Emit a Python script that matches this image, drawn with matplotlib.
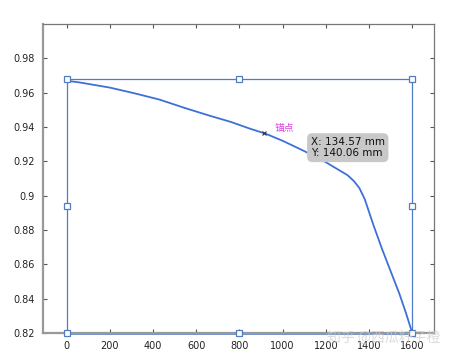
import matplotlib.pyplot as plt

plt.rcParams['font.family'] = ['DejaVu Sans', 'Noto Sans CJK SC']

# curve
curve_x = [0, 60, 200, 320, 430, 550, 660, 760, 850, 920, 1000, 1100, 1200, 1260,
           1300, 1330, 1355, 1380, 1420, 1460, 1500, 1540, 1570, 1600]
curve_y = [0.967, 0.966, 0.963, 0.9595, 0.956, 0.951, 0.9467, 0.943, 0.939, 0.9362,
           0.932, 0.926, 0.9195, 0.915, 0.912, 0.9085, 0.9045, 0.898, 0.883, 0.869,
           0.856, 0.843, 0.832, 0.82]

# selection box round the curve
box_x = [0, 1600, 1600, 0, 0]
box_y = [0.968, 0.968, 0.82, 0.82, 0.968]
handle_x = [0, 800, 1600, 0, 1600, 0, 800, 1600]
handle_y = [0.968, 0.968, 0.968, 0.894, 0.894, 0.82, 0.82, 0.82]

anchor = (915, 0.9365)
tip_text = "X: 134.57 mm\nY: 140.06 mm"

xticks = [0, 200, 400, 600, 800, 1000, 1200, 1400, 1600]
yticks = [0.82, 0.84, 0.86, 0.88, 0.9, 0.92, 0.94, 0.96, 0.98]

fig = plt.figure(figsize=(4.55, 3.6), dpi=100)
ax = fig.add_axes([0.0945, 0.075, 0.859, 0.858])

ax.plot(box_x, box_y, color='#4f7cc4', lw=0.9, clip_on=False, zorder=2)
ax.plot([0, 1600], [0.82, 0.82], color='#4f7cc4', lw=1.8, clip_on=False, zorder=2)
ax.plot(curve_x, curve_y, color='#3d70d8', lw=1.3, clip_on=False, zorder=3)
ax.plot(handle_x, handle_y, ls='none', marker='s', ms=4.5, mfc='white',
        mec='#4f7cc4', mew=0.9, clip_on=False, zorder=4)

ax.plot(*anchor, marker='x', ms=3.5, color='#333333', mew=0.8, zorder=5)
ax.text(962, 0.9395, '锚点', color='#e040e0', fontsize=7,
        family=['Noto Sans CJK SC'], va='center', ha='left')
ax.text(1130, 0.928, tip_text, fontsize=7.5, color='#111111', va='center', ha='left',
        linespacing=1.2,
        bbox=dict(boxstyle='round,pad=0.35,rounding_size=0.5', fc='#c8c8c8', ec='none'),
        zorder=6)

ax.set_xlim(-110, 1700)
ax.set_ylim(0.82, 1.0)
ax.set_xticks(xticks)
ax.set_yticks(yticks)
ax.set_xticklabels([str(t) for t in xticks])
ax.set_yticklabels(['%g' % t for t in yticks])
ax.tick_params(direction='in', length=3, width=0.8, color='#555555', labelsize=7,
               labelcolor='#222222', top=True, right=True, pad=6)

for s in ['top', 'right']:
    ax.spines[s].set_color('#777777')
    ax.spines[s].set_linewidth(0.9)
for s in ['left', 'bottom']:
    ax.spines[s].set_color('#999999')
    ax.spines[s].set_linewidth(1.6)

# faint watermark, lies over the tick labels as in the original
fig.text(0.968, 0.062, '知乎 @西瓜籽子橙', fontsize=10, color='#cccccc', alpha=0.7,
         family=['Noto Sans CJK SC', 'DejaVu Sans'], ha='right', va='center', zorder=10)

fig.savefig('out.png', dpi=100)
